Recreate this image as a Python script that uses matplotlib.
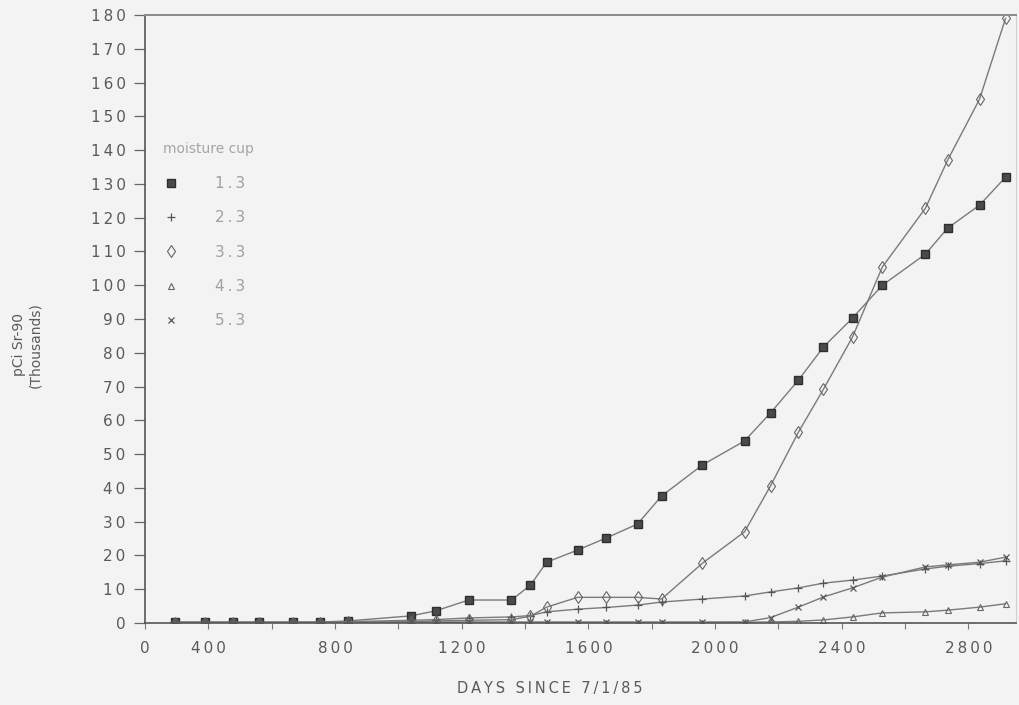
import matplotlib
matplotlib.use("Agg")
import matplotlib.pyplot as plt
from matplotlib.lines import Line2D

# sampling days (common to all cups)
days = [294, 389, 477, 559, 666, 752, 840, 1039, 1118, 1222, 1357, 1417, 1468,
        1566, 1657, 1755, 1831, 1960, 2093, 2175, 2263, 2342, 2434, 2528,
        2664, 2734, 2835, 2917]

# pCi Sr-90 in thousands, one list per moisture cup
cup_1_3 = [0.3, 0.3, 0.3, 0.3, 0.3, 0.3, 0.6, 2.1, 3.6, 6.8, 6.8, 11.2, 18.0,
           21.6, 25.2, 29.3, 37.6, 46.8, 53.9, 62.2, 71.9, 81.7, 90.3, 100.0,
           109.2, 116.9, 123.7, 132.0]
cup_2_3 = [0.2, 0.2, 0.2, 0.2, 0.2, 0.3, 0.4, 0.8, 1.0, 1.5, 1.8, 2.2, 3.3,
           4.1, 4.6, 5.3, 6.2, 7.1, 8.0, 9.2, 10.4, 11.8, 12.7, 13.9,
           16.0, 16.8, 17.6, 18.4]
cup_3_3 = [0.1, 0.1, 0.1, 0.1, 0.1, 0.1, 0.2, 0.4, 0.6, 0.8, 1.0, 2.0, 4.7,
           7.6, 7.6, 7.6, 7.1, 17.7, 27.0, 40.6, 56.5, 69.2, 84.7, 105.4,
           122.8, 137.0, 155.1, 179.0]
cup_4_3 = [0.1, 0.1, 0.1, 0.1, 0.1, 0.1, 0.1, 0.1, 0.1, 0.1, 0.1, 0.1, 0.1,
           0.1, 0.1, 0.1, 0.1, 0.1, 0.2, 0.3, 0.5, 0.9, 1.8, 3.0,
           3.3, 3.8, 4.7, 5.7]
cup_5_3 = [0.1, 0.1, 0.1, 0.1, 0.1, 0.1, 0.2, 0.3, 0.3, 0.3, 0.3, 0.3, 0.3,
           0.3, 0.3, 0.3, 0.3, 0.3, 0.3, 1.6, 4.7, 7.7, 10.4, 13.6,
           16.6, 17.2, 18.0, 19.5]

series = [("1.3", cup_1_3), ("2.3", cup_2_3), ("3.3", cup_3_3),
          ("4.3", cup_4_3), ("5.3", cup_5_3)]
styles = {
    "1.3": dict(marker="s", ms=6, mfc="#4a4a4a", mec="#2e2e2e", mew=1.0),
    "2.3": dict(marker="+", ms=6, mfc="none", mec="#555555", mew=0.9),
    "3.3": dict(marker="d", ms=6, mfc="none", mec="#666666", mew=0.8),
    "4.3": dict(marker="^", ms=5, mfc="none", mec="#666666", mew=0.8),
    "5.3": dict(marker="x", ms=5, mfc="none", mec="#555555", mew=0.9),
}

y_ticks = list(range(0, 181, 10))
x_label_ticks = [200, 400, 800, 1200, 1600, 2000, 2400, 2800]
x_labels = ["0", "400", "800", "1200", "1600", "2000", "2400", "2800"]

def spaced(s):
    return "\u2009".join(s)

bg = "#f3f3f3"
txt = "#5a5a5a"

fig = plt.figure(figsize=(10.19, 7.05), dpi=100, facecolor=bg)
ax = fig.add_axes([145 / 1019, 1 - 623 / 705, (1016 - 145) / 1019, (623 - 15) / 705])
ax.set_facecolor(bg)

for name, vals in series:
    ax.plot(days, vals, color="#7a7a7a", lw=1.0, **styles[name])

ax.set_xlim(200, 2950)
ax.set_ylim(0, 180)

ax.set_yticks(y_ticks)
ax.set_yticklabels([spaced(str(v)) for v in y_ticks])
ax.set_xticks(x_label_ticks)
ax.set_xticklabels([spaced(s) for s in x_labels])
ax.set_xticks(range(200, 2951, 200), minor=True)

ax.tick_params(axis="y", direction="out", length=8, width=0.9, color="#666666",
               labelsize=11, labelcolor=txt, pad=6)
ax.tick_params(axis="x", which="both", direction="out", length=4, width=0.8,
               color="#777777", labelsize=11, labelcolor=txt, pad=9)

for side in ["left", "bottom"]:
    ax.spines[side].set_color("#555555")
    ax.spines[side].set_linewidth(1.2)
ax.spines["top"].set_color("#8a8a8a")
ax.spines["top"].set_linewidth(1.4)
ax.spines["top"].set_linestyle((0, (4, 1)))
ax.spines["right"].set_color("#d0d0d0")
ax.spines["right"].set_linewidth(0.8)

# legend shows only the markers
handles = [Line2D([], [], linestyle="none", **styles[name]) for name, _ in series]
leg = ax.legend(handles, [spaced(n) for n, _ in series], title="moisture cup",
                loc="upper left", bbox_to_anchor=(0.005, 0.813), frameon=False,
                fontsize=11, title_fontsize=10, labelspacing=1.27,
                handletextpad=2.4, handlelength=1.0, alignment="left")
for t in leg.get_texts():
    t.set_color("#a0a0a0")
leg.get_title().set_color("#a5a5a5")

fig.text(27 / 1019, 1 - 345 / 705, "pCi Sr-90\n(Thousands)", rotation=90,
         ha="center", va="center", fontsize=10, color=txt, linespacing=1.2)
fig.text(550 / 1019, 1 - 688 / 705, spaced("DAYS SINCE 7/1/85"),
         ha="center", va="center", fontsize=10.5, color=txt)

fig.savefig("out.png", dpi=100, facecolor=bg)
